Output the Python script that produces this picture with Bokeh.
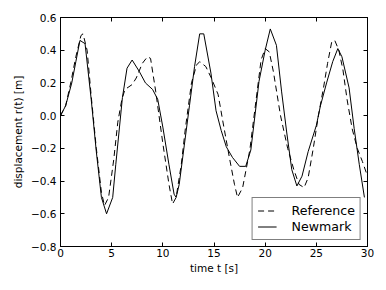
from bokeh.plotting import figure
from bokeh.models import Range1d, LinearAxis, FixedTicker, CustomJSTickFormatter, Legend, LegendItem
from bokeh.embed import file_html
from bokeh.resources import INLINE

# Reference solution (dashed)
ref_t = [0, 0.5, 1.0, 1.5, 2.0, 2.2, 2.6, 3.0, 3.5, 4.0, 4.3, 4.7, 5.2, 5.6, 6.0, 6.3, 7.0, 7.4,
         8.0, 8.5, 8.8, 9.3, 10.0, 10.6, 10.95, 11.3, 11.8, 12.2, 12.8, 13.3, 13.6, 14.2, 14.7,
         15.4, 15.85, 16.5, 17.0, 17.3, 17.8, 18.5, 19.1, 19.6, 20.0, 20.4, 20.8, 21.5, 22.2,
         22.8, 23.3, 23.8, 24.2, 24.7, 25.2, 25.7, 26.1, 26.5, 26.8, 27.2, 27.6, 28.0, 28.5,
         29.0, 29.5, 30.0]
ref_v = [0, 0.06, 0.2, 0.36, 0.49, 0.5, 0.4, 0.12, -0.2, -0.47, -0.55, -0.5, -0.27, -0.04, 0.1,
         0.16, 0.19, 0.23, 0.32, 0.36, 0.35, 0.15, -0.17, -0.42, -0.54, -0.5, -0.3, -0.08, 0.2,
         0.31, 0.33, 0.30, 0.235, 0.13, -0.03, -0.255, -0.42, -0.5, -0.44, -0.21, 0.09, 0.34,
         0.41, 0.39, 0.27, 0.0, -0.2, -0.33, -0.42, -0.44, -0.38, -0.2, 0.0, 0.17, 0.32, 0.45,
         0.46, 0.4, 0.28, 0.1, -0.08, -0.2, -0.28, -0.37]

# Newmark solution (solid)
nm_t = [0, 0.5, 1.1, 1.5, 1.9, 2.4, 3.0, 3.5, 4.0, 4.5, 5.1, 5.4, 6.05, 6.5, 7.0, 7.7, 8.3, 9.0,
        9.5, 10.0, 10.6, 11.1, 11.3, 11.6, 12.1, 12.6, 13.1, 13.6, 14.0, 14.7, 15.2, 15.7, 16.2,
        16.8, 17.5, 18.1, 18.6, 19.4, 20.0, 20.5, 21.1, 21.6, 22.1, 22.6, 23.1, 23.6, 24.2, 25.0,
        25.4, 26.0, 26.6, 27.1, 27.5, 28.2, 28.7, 29.2, 29.7]
nm_v = [0, 0.06, 0.2, 0.33, 0.46, 0.44, 0.1, -0.22, -0.5, -0.6, -0.5, -0.3, 0.11, 0.29, 0.34,
        0.27, 0.2, 0.16, 0.1, -0.07, -0.3, -0.48, -0.5, -0.42, -0.18, 0.06, 0.3, 0.5, 0.5, 0.26,
        0.03, -0.09, -0.19, -0.255, -0.31, -0.31, -0.21, 0.21, 0.4, 0.53, 0.43, 0.15, -0.1,
        -0.33, -0.43, -0.37, -0.22, -0.06, 0.06, 0.2, 0.33, 0.41, 0.36, 0.17, -0.08, -0.3, -0.5]

x_ticks = [0, 5, 10, 15, 20, 25, 30]
y_ticks = [-0.8, -0.6, -0.4, -0.2, 0.0, 0.2, 0.4, 0.6]

FONT = "DejaVu Sans"

p = figure(width=378, height=282, output_backend="svg", toolbar_location=None,
           x_range=Range1d(0, 30), y_range=Range1d(-0.8, 0.6),
           x_axis_type=None, y_axis_type=None,
           min_border_left=60, min_border_right=11, min_border_top=17, min_border_bottom=36)
p.outline_line_color = "black"
p.outline_line_width = 1
p.xgrid.visible = False
p.ygrid.visible = False
p.background_fill_color = "white"
p.border_fill_color = "white"

xfmt = CustomJSTickFormatter(code="return tick.toFixed(0);")
yfmt = CustomJSTickFormatter(code="return tick.toFixed(1).replace('-', '\u2212');")


def style(ax, labels=True):
    ax.major_tick_in = 4
    ax.major_tick_out = 0
    ax.minor_tick_in = 0
    ax.minor_tick_out = 0
    ax.axis_line_color = "black"
    ax.major_tick_line_color = "black"
    ax.major_label_text_font = FONT
    ax.major_label_text_font_size = "10.5px"
    ax.major_label_text_color = "black"
    ax.axis_label_text_font = FONT
    ax.axis_label_text_font_size = "10.5px"
    ax.axis_label_text_font_style = "normal"
    ax.axis_label_text_color = "black"
    if not labels:
        ax.major_label_text_font_size = "0px"
        ax.major_label_standoff = 0
        ax.major_label_text_color = None


xb = LinearAxis(ticker=FixedTicker(ticks=x_ticks), formatter=xfmt, axis_label="time t [s]")
style(xb)
xb.major_label_standoff = 2
xb.axis_label_standoff = 2
p.add_layout(xb, "below")

yl = LinearAxis(ticker=FixedTicker(ticks=y_ticks), formatter=yfmt, axis_label="displacement r(t) [m]")
style(yl)
yl.major_label_standoff = 4
yl.axis_label_standoff = 4
p.add_layout(yl, "left")

xt = LinearAxis(ticker=FixedTicker(ticks=x_ticks), formatter=xfmt)
style(xt, labels=False)
p.add_layout(xt, "above")

yr = LinearAxis(ticker=FixedTicker(ticks=y_ticks), formatter=yfmt)
style(yr, labels=False)
p.add_layout(yr, "right")

r_ref = p.line(ref_t, ref_v, line_color="black", line_width=1, line_dash="6 4")
r_nm = p.line(nm_t, nm_v, line_color="black", line_width=1)

legend = Legend(items=[LegendItem(label="Reference", renderers=[r_ref]),
                       LegendItem(label="Newmark", renderers=[r_nm])],
                location="bottom_right")
legend.margin = 6
legend.padding = 5
legend.spacing = 1
legend.glyph_width = 19
legend.glyph_height = 13
legend.label_height = 13
legend.label_standoff = 15
legend.label_text_font = FONT
legend.label_text_font_size = "12.6px"
legend.label_text_color = "black"
legend.border_line_color = "black"
legend.border_line_width = 1
legend.background_fill_color = "white"
legend.background_fill_alpha = 1
p.add_layout(legend, "center")

open("out.html", "w").write(file_html(p, INLINE))
